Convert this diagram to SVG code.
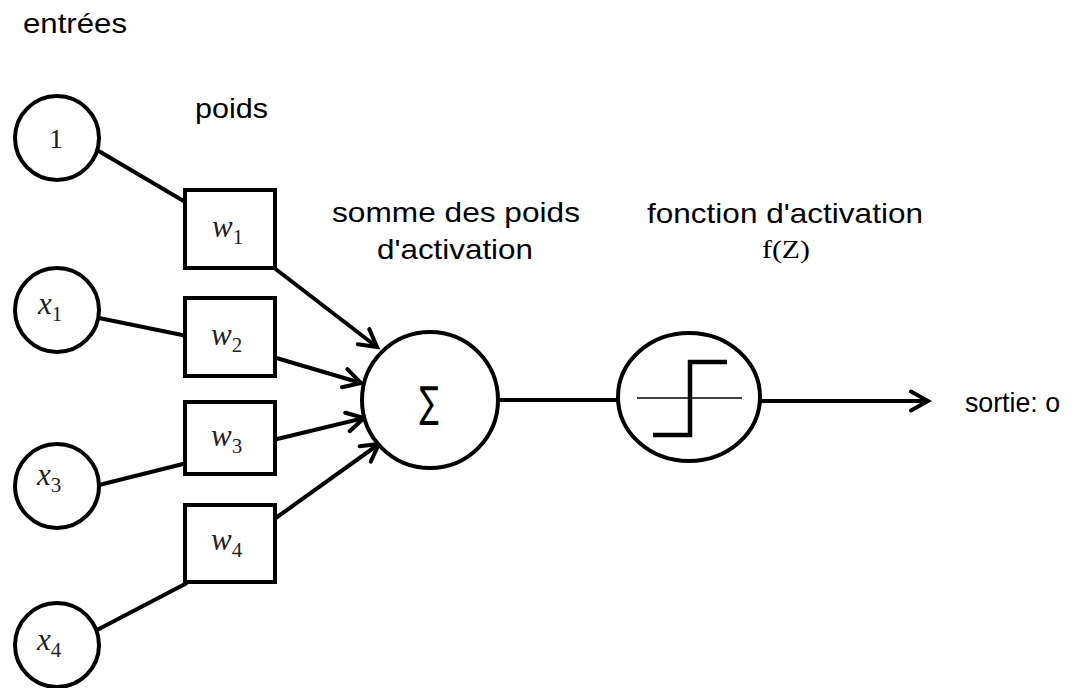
<svg xmlns="http://www.w3.org/2000/svg" width="1079" height="688" viewBox="0 0 1079 688">
<style>
.lbl{font-family:"Liberation Sans",Arial,sans-serif;font-size:28px;fill:#000}
.math{font-family:"Liberation Serif","DejaVu Serif",serif;fill:#222;font-style:italic;font-size:31px}
.sub{font-family:"Liberation Serif","DejaVu Serif",serif;font-style:normal;font-size:21px}
.node{fill:#fff;stroke:#000;stroke-width:4}
.conn{stroke:#000;stroke-width:4;fill:none}
</style>
<defs>
<marker id="arr" viewBox="0 0 24 24" refX="20" refY="12" markerWidth="24" markerHeight="24" markerUnits="userSpaceOnUse" orient="auto">
<path d="M3,2.5 L20,12 L3,21.5" fill="none" stroke="#000" stroke-width="4" stroke-linecap="round" stroke-linejoin="miter"/>
</marker>
</defs>
<rect width="1079" height="688" fill="#fff"/>

<g id="labels">
<text class="lbl" x="23" y="33" textLength="104" lengthAdjust="spacingAndGlyphs">entrées</text>
<text class="lbl" x="195" y="118" textLength="73" lengthAdjust="spacingAndGlyphs">poids</text>
<text class="lbl" x="332" y="222" textLength="248" lengthAdjust="spacingAndGlyphs">somme des poids</text>
<text class="lbl" x="377" y="259" textLength="156" lengthAdjust="spacingAndGlyphs">d'activation</text>
<text class="lbl" x="647" y="223" textLength="276" lengthAdjust="spacingAndGlyphs">fonction d'activation</text>
<text x="762" y="258" font-family="'Liberation Serif',serif" font-size="26" textLength="48" lengthAdjust="spacingAndGlyphs">f(Z)</text>
<text class="lbl" x="965" y="412" textLength="95" lengthAdjust="spacingAndGlyphs">sortie: o</text>
</g>

<g id="connectors">
<line class="conn" x1="97" y1="150" x2="187" y2="203"/>
<line class="conn" x1="99" y1="318" x2="187" y2="336"/>
<line class="conn" x1="99" y1="485" x2="187" y2="463"/>
<line class="conn" x1="97" y1="630" x2="187" y2="583"/>
<line class="conn" x1="273" y1="267" x2="377" y2="347" marker-end="url(#arr)"/>
<line class="conn" x1="273" y1="357" x2="361" y2="383" marker-end="url(#arr)"/>
<line class="conn" x1="273" y1="440" x2="364" y2="418" marker-end="url(#arr)"/>
<line class="conn" x1="273" y1="520" x2="379" y2="444" marker-end="url(#arr)"/>
<line class="conn" x1="498" y1="400" x2="618" y2="400"/>
<line class="conn" x1="760" y1="401" x2="928" y2="401" marker-end="url(#arr)"/>
</g>

<g id="in1">
<circle class="node" cx="57" cy="138" r="42"/>
<text x="56" y="148" text-anchor="middle" font-family="'Liberation Serif',serif" font-size="28" fill="#222">1</text>
</g>
<g id="inx1">
<circle class="node" cx="57" cy="310" r="42"/>
<text class="math" x="38" y="314">x<tspan class="sub" dy="7">1</tspan></text>
</g>
<g id="inx3">
<circle class="node" cx="57" cy="486" r="42"/>
<text class="math" x="37" y="485">x<tspan class="sub" dy="7">3</tspan></text>
</g>
<g id="inx4">
<circle class="node" cx="57" cy="645" r="42"/>
<text class="math" x="37" y="650">x<tspan class="sub" dy="7">4</tspan></text>
</g>

<g id="w1">
<rect class="node" x="185" y="190" width="90" height="78"/>
<text class="math" x="212" y="237">w<tspan class="sub" dy="7">1</tspan></text>
</g>
<g id="w2">
<rect class="node" x="185" y="298" width="90" height="78"/>
<text class="math" x="211" y="345">w<tspan class="sub" dy="7">2</tspan></text>
</g>
<g id="w3">
<rect class="node" x="185" y="402" width="90" height="72"/>
<text class="math" x="211" y="446">w<tspan class="sub" dy="7">3</tspan></text>
</g>
<g id="w4">
<rect class="node" x="185" y="505" width="90" height="77"/>
<text class="math" x="211" y="550">w<tspan class="sub" dy="7">4</tspan></text>
</g>

<g id="sum">
<circle class="node" cx="430" cy="400" r="68"/>
<text x="429" y="414" text-anchor="middle" font-family="'DejaVu Sans',sans-serif" font-size="34" transform="translate(429 400) scale(0.85 1.25) translate(-429 -400)">∑</text>
</g>

<g id="activation">
<ellipse class="node" cx="689" cy="397" rx="71" ry="64"/>
<line x1="637" y1="398" x2="742" y2="398" stroke="#000" stroke-width="1.5"/>
<path d="M653,435 L690,435 L690,362 L727,362" fill="none" stroke="#000" stroke-width="4.5"/>
</g>
</svg>
